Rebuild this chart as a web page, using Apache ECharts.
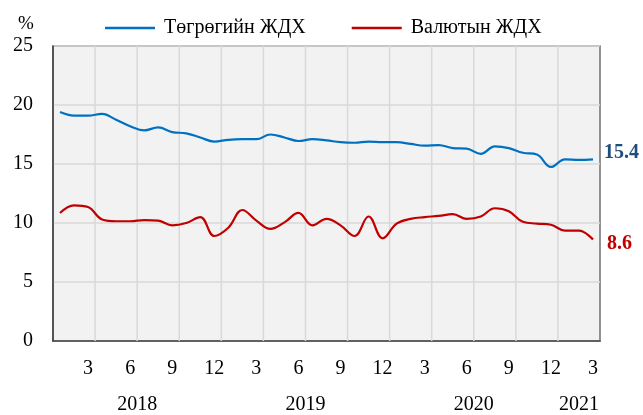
<!DOCTYPE html>
<html>
<head>
<meta charset="utf-8">
<script src="https://cdn.jsdelivr.net/npm/echarts@6/dist/echarts.min.js"></script>
<style>
  html, body { margin: 0; padding: 0; background: #ffffff; }
  #chart { width: 643px; height: 415px; }
</style>
</head>
<body>
<div id="chart"></div>
<script>
// months 2018-1 .. 2021-3
const categories = [
  '2018-1', '2018-2', '2018-3', '2018-4', '2018-5', '2018-6', '2018-7', '2018-8', '2018-9', '2018-10', '2018-11', '2018-12',
  '2019-1', '2019-2', '2019-3', '2019-4', '2019-5', '2019-6', '2019-7', '2019-8', '2019-9', '2019-10', '2019-11', '2019-12',
  '2020-1', '2020-2', '2020-3', '2020-4', '2020-5', '2020-6', '2020-7', '2020-8', '2020-9', '2020-10', '2020-11', '2020-12',
  '2021-1', '2021-2', '2021-3'
]
// Төгрөгийн ЖДХ
const mntRate = [
  19.4, 19.1, 19.1, 19.25, 18.75, 18.2, 17.85, 18.1, 17.7, 17.6, 17.25, 16.9,
  17.05, 17.1, 17.1, 17.5, 17.25, 16.95, 17.1, 17.0, 16.85, 16.8, 16.9, 16.85,
  16.85, 16.7, 16.55, 16.6, 16.35, 16.3, 15.85, 16.5, 16.35, 15.95, 15.8, 14.75,
  15.4, 15.35, 15.4
]
// Валютын ЖДХ
const fxRate = [
  10.85, 11.5, 11.35, 10.3, 10.15, 10.15, 10.25, 10.2, 9.8, 10.0, 10.5, 8.9,
  9.6, 11.1, 10.2, 9.5, 10.05, 10.85, 9.8, 10.35, 9.8, 8.9, 10.55, 8.7,
  9.95, 10.35, 10.5, 10.6, 10.75, 10.35, 10.55, 11.25, 11.0, 10.1, 9.95, 9.85,
  9.35, 9.35, 8.6
]
const seriesNames = ['Төгрөгийн ЖДХ', 'Валютын ЖДХ']
// helper month axis 0..39: quarter boundaries and year label positions
const quarterLines = [3, 6, 9, 12, 15, 18, 21, 24, 27, 30, 33, 36]
const yearPositions = [6, 18, 30, 37.5]
const yearLabels = ['2018', '2019', '2020', '2021']

const font = "'Liberation Serif', 'Times New Roman', serif"
const myChart = echarts.init(document.getElementById('chart'))

// vertical grid line at a month boundary, placed through the helper axis
const renderQuarterLine = (params, api) => {
  const p = api.coord([api.value(0), 0])
  const cs = params.coordSys
  return {
    type: 'line',
    shape: { x1: p[0], y1: cs.y, x2: p[0], y2: cs.y + cs.height },
    style: { stroke: '#d9d9d9', lineWidth: 1.5 },
    silent: true
  }
}

const option = {
  animation: false,
  textStyle: { fontFamily: font },
  title: {
    text: '%',
    left: 13,
    top: 10,
    textStyle: { fontFamily: font, fontSize: 19, fontWeight: 'normal', color: '#000' }
  },
  legend: {
    data: seriesNames,
    left: 100,
    top: 13,
    icon: 'rect',
    itemWidth: 50,
    itemHeight: 2.5,
    itemGap: 46,
    textStyle: { fontFamily: font, fontSize: 20, color: '#000', padding: [0, 0, 0, 4] }
  },
  grid: {
    left: 53,
    right: 43,
    top: 46,
    bottom: 72,
    show: true,
    backgroundColor: '#f2f2f2',
    borderColor: '#6f6f6f',
    borderWidth: 1.5
  },
  xAxis: [
    {
      type: 'category',
      data: categories,
      boundaryGap: true,
      axisLine: { lineStyle: { color: '#404040', width: 1.5 } },
      axisTick: { show: false },
      axisLabel: {
        interval: (i) => i % 3 === 2,
        formatter: (v) => v.split('-')[1],
        margin: 18,
        fontFamily: font,
        fontSize: 20,
        color: '#000'
      },
      splitLine: { show: false }
    },
    {
      // month axis 0..39 for quarter lines and year labels
      type: 'value',
      min: 0,
      max: 39,
      position: 'bottom',
      axisLine: { show: false },
      axisTick: { show: false },
      splitLine: { show: false },
      axisLabel: {
        customValues: yearPositions,
        formatter: (v) => yearLabels[yearPositions.indexOf(v)],
        margin: 54,
        fontFamily: font,
        fontSize: 20,
        color: '#000'
      }
    }
  ],
  yAxis: {
    type: 'value',
    min: 0,
    max: 25,
    interval: 5,
    axisLine: { show: true, lineStyle: { color: '#404040', width: 1.5 } },
    axisTick: { show: false },
    axisLabel: { margin: 20, fontFamily: font, fontSize: 20, color: '#000' },
    splitLine: { lineStyle: { color: '#d9d9d9', width: 1.5 } }
  },
  series: [
    {
      name: 'quarters',
      type: 'custom',
      xAxisIndex: 1,
      yAxisIndex: 0,
      data: quarterLines.map((v) => [v, 0]),
      silent: true,
      z: 1,
      renderItem: renderQuarterLine
    },
    {
      name: seriesNames[0],
      type: 'line',
      data: mntRate,
      smooth: 0.4,
      symbol: 'none',
      z: 3,
      itemStyle: { color: '#0070c0' },
      lineStyle: { width: 2.2, color: '#0070c0' },
      endLabel: {
        show: true,
        distance: 11,
        offset: [0, -6],
        formatter: (p) => p.value.toFixed(1),
        fontFamily: font,
        fontSize: 20,
        fontWeight: 'bold',
        color: '#1f4e79'
      }
    },
    {
      name: seriesNames[1],
      type: 'line',
      data: fxRate,
      smooth: 0.4,
      symbol: 'none',
      z: 3,
      itemStyle: { color: '#c00000' },
      lineStyle: { width: 2.2, color: '#c00000' },
      endLabel: {
        show: true,
        distance: 14,
        offset: [0, 4],
        formatter: (p) => p.value.toFixed(1),
        fontFamily: font,
        fontSize: 20,
        fontWeight: 'bold',
        color: '#c00000'
      }
    }
  ]
}

myChart.setOption(option, true)
addEventListener('resize', () => {
  myChart.resize()
})
</script>
</body>
</html>
